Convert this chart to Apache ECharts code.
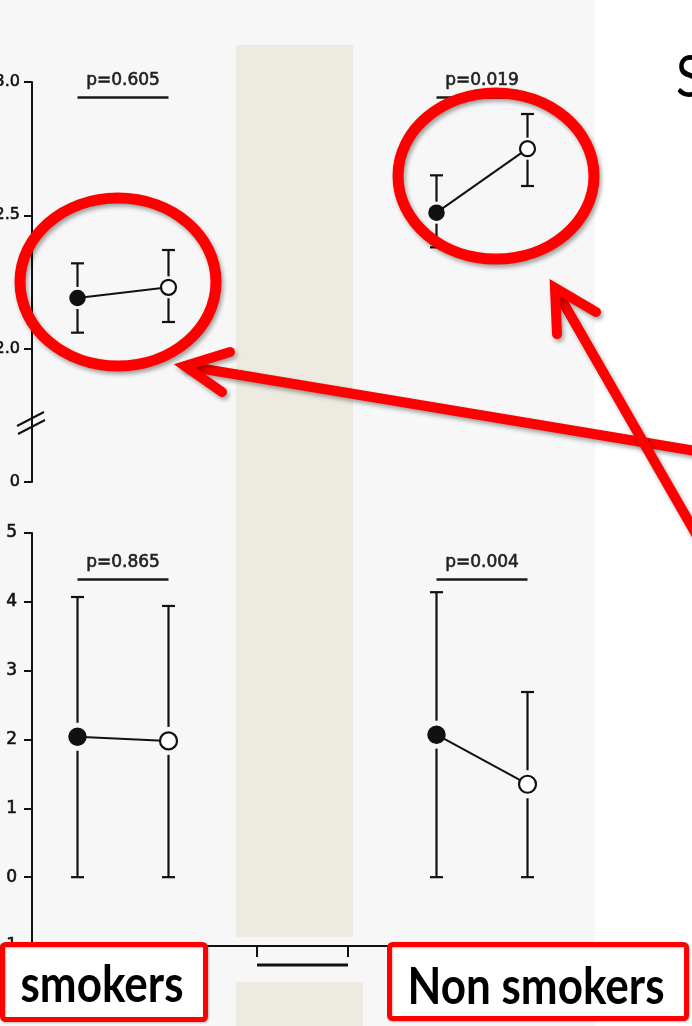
<!DOCTYPE html>
<html>
<head>
<meta charset="utf-8">
<script src="https://cdn.jsdelivr.net/npm/echarts@6/dist/echarts.min.js"></script>
<style>
  html, body { margin: 0; padding: 0; background: #ffffff; }
  #chart { width: 692px; height: 1026px; }
</style>
</head>
<body>
<div id="chart"></div>
<script>
// Two visits per group (baseline = filled marker, follow-up = open marker)
const visits = [1, 2];

// Upper panels: mean and error range
const upperSmokersMean = [2.19, 2.23];
const upperSmokersLow = [2.06, 2.10];
const upperSmokersHigh = [2.32, 2.37];
const upperNonSmokersMean = [2.51, 2.75];
const upperNonSmokersLow = [2.38, 2.61];
const upperNonSmokersHigh = [2.65, 2.88];

// Lower panels: mean and error range
const lowerSmokersMean = [2.04, 1.98];
const lowerSmokersLow = [0, 0];
const lowerSmokersHigh = [4.07, 3.94];
const lowerNonSmokersMean = [2.07, 1.35];
const lowerNonSmokersLow = [0, 0];
const lowerNonSmokersHigh = [4.14, 2.69];

// Significance labels: upper-left, upper-right, lower-left, lower-right
const pLabels = ['p=0.605', 'p=0.019', 'p=0.865', 'p=0.004'];

// Upper axis is broken between 0 and 2.0; the lowest tick stands for 0
const upperTicks = [1.5, 2.0, 2.5, 3.0];
const upperTickLabels = ['0', '2.0', '2.5', '3.0'];

const groupLabels = ['smokers', 'Non smokers'];

const INK = '#111111';
const RED = '#ff0000';
const PAPER = '#f7f7f7';
const STRIP = '#edebe1';
const SCAN_FONT = 'DejaVu Sans';

const panels = [
  { mean: upperSmokersMean, low: upperSmokersLow, high: upperSmokersHigh, upper: true, pLevel: 2.944, showAxis: true },
  { mean: upperNonSmokersMean, low: upperNonSmokersLow, high: upperNonSmokersHigh, upper: true, pLevel: 2.944, showAxis: false },
  { mean: lowerSmokersMean, low: lowerSmokersLow, high: lowerSmokersHigh, upper: false, pLevel: 4.33, showAxis: true },
  { mean: lowerNonSmokersMean, low: lowerNonSmokersLow, high: lowerNonSmokersHigh, upper: false, pLevel: 4.33, showAxis: false }
];

const grids = [
  { left: 32, top: 82, width: 182, height: 400 },
  { left: 391, top: 82, width: 182, height: 400 },
  { left: 32, top: 533, width: 364, height: 413 },
  { left: 391, top: 533, width: 182, height: 413 }
].map(g => Object.assign(g, { containLabel: false, outerBoundsMode: 'none' }));

const xAxes = grids.map((g, i) => ({
  type: 'value', gridIndex: i, min: 0.5, max: i === 2 ? 4.5 : 2.5,
  show: i === 2,
  axisLine: { show: i === 2, onZero: false, lineStyle: { color: INK, width: 2 } },
  axisTick: { show: false }, axisLabel: { show: false }, splitLine: { show: false }
}));

// slightly heavier strokes on the small print
const inkText = { textBorderColor: '#1a1a1a', textBorderWidth: 0.6 };

const yAxes = panels.map((p, i) => {
  const base = {
    type: 'value', gridIndex: i, show: p.showAxis,
    axisLine: { show: true, onZero: false, lineStyle: { color: INK, width: 2 } },
    axisTick: { show: true, inside: false, length: 8, lineStyle: { color: INK, width: 2 } },
    splitLine: { show: false }
  };
  if (p.upper) {
    return Object.assign(base, {
      min: 1.5, max: 3.0, interval: 0.5,
      axisLabel: Object.assign({
        margin: 12, color: INK, fontSize: 16, fontFamily: SCAN_FONT,
        formatter: v => {
          const k = upperTicks.findIndex(t => Math.abs(t - v) < 1e-6);
          return k >= 0 ? upperTickLabels[k] : '';
        }
      }, inkText)
    });
  }
  return Object.assign(base, {
    min: -1, max: 5, interval: 1,
    axisLabel: Object.assign({ margin: 15, color: INK, fontSize: 17, fontFamily: SCAN_FONT }, inkText)
  });
});

// Error bars with a small gap around each marker
function errorBars(gap, cap) {
  return function (params, api) {
    const x = api.value(0);
    const m = api.coord([x, api.value(1)]);
    const lo = api.coord([x, api.value(2)]);
    const hi = api.coord([x, api.value(3)]);
    const st = { stroke: INK, lineWidth: 2.2 };
    const kids = [];
    if (hi[1] < m[1] - gap) kids.push({ type: 'line', shape: { x1: m[0], y1: hi[1], x2: m[0], y2: m[1] - gap }, style: st });
    if (lo[1] > m[1] + gap) kids.push({ type: 'line', shape: { x1: m[0], y1: m[1] + gap, x2: m[0], y2: lo[1] }, style: st });
    kids.push({ type: 'line', shape: { x1: m[0] - cap / 2, y1: hi[1], x2: m[0] + cap / 2, y2: hi[1] }, style: st });
    kids.push({ type: 'line', shape: { x1: m[0] - cap / 2, y1: lo[1], x2: m[0] + cap / 2, y2: lo[1] }, style: st });
    return { type: 'group', children: kids };
  };
}

const series = [];
panels.forEach((p, i) => {
  series.push({
    type: 'custom', xAxisIndex: i, yAxisIndex: i, z: 2, silent: true,
    renderItem: errorBars(p.upper ? 11 : 14, 13),
    encode: { x: 0, y: 1 },
    data: visits.map((v, k) => [v, p.mean[k], p.low[k], p.high[k]])
  });
  const size = p.upper ? 15 : 17;
  series.push({
    type: 'line', xAxisIndex: i, yAxisIndex: i, z: 3, silent: true,
    symbol: 'circle', symbolSize: size, showSymbol: true,
    lineStyle: { color: INK, width: 2 },
    data: visits.map((v, k) => ({
      value: [v, p.mean[k]],
      itemStyle: k === 0
        ? { color: INK, borderColor: INK, borderWidth: 1.5 }
        : { color: '#ffffff', borderColor: INK, borderWidth: 2.2 }
    })),
    markLine: {
      silent: true, animation: false, symbol: ['none', 'none'],
      lineStyle: { color: '#1a1a1a', width: 2.5, type: 'solid' },
      label: Object.assign({
        show: true, position: 'insideMiddleTop', distance: 8,
        formatter: pLabels[i], color: '#222222', fontSize: 17, fontFamily: SCAN_FONT
      }, inkText),
      emphasis: { disabled: true },
      data: [[{ coord: [visits[0], p.pLevel] }, { coord: [visits[1], p.pLevel] }]]
    }
  });
});

const redShadow = { shadowBlur: 4, shadowColor: 'rgba(0,0,0,0.35)', shadowOffsetX: 2, shadowOffsetY: 3 };
const redLine = Object.assign({ stroke: RED, lineWidth: 10, lineCap: 'round', lineJoin: 'miter', fill: null }, redShadow);

function box(x, y, w, h, cx, cy, text, sx, sy) {
  return [
    { type: 'rect', z: 110, shape: { x: x, y: y, width: w, height: h, r: 3 },
      style: Object.assign({ fill: '#ffffff', stroke: RED, lineWidth: 5 }, { shadowBlur: 2, shadowColor: 'rgba(0,0,0,0.25)', shadowOffsetX: 1, shadowOffsetY: 1 }) },
    { type: 'text', z: 111, x: cx, y: cy, scaleX: sx, scaleY: sy,
      style: { text: text, x: 0, y: 0, align: 'center', verticalAlign: 'middle', fill: '#000000',
               font: 'bold 44px Lato' } }
  ];
}

const graphics = [
  // paper background of the figure
  { type: 'rect', z: -100, shape: { x: 0, y: 0, width: 595, height: 1026 }, style: { fill: PAPER } },
  // covering strips
  { type: 'rect', z: 50, shape: { x: 236, y: 45, width: 117, height: 892 }, style: { fill: STRIP } },
  { type: 'rect', z: 50, shape: { x: 236, y: 982, width: 127, height: 44 }, style: { fill: STRIP } },
  // axis break on the upper-left scale
  { type: 'line', z: 5, shape: { x1: 17, y1: 426, x2: 44, y2: 412 }, style: { stroke: INK, lineWidth: 2 } },
  { type: 'line', z: 5, shape: { x1: 18, y1: 434, x2: 45, y2: 420 }, style: { stroke: INK, lineWidth: 2 } },
  // bracket below the baseline
  { type: 'polyline', z: 5, shape: { points: [[257, 945], [257, 957]] }, style: { stroke: INK, lineWidth: 2, fill: null } },
  { type: 'polyline', z: 5, shape: { points: [[348, 945], [348, 957]] }, style: { stroke: INK, lineWidth: 2, fill: null } },
  { type: 'line', z: 5, shape: { x1: 257, y1: 965, x2: 348, y2: 965 }, style: { stroke: INK, lineWidth: 3 } },
  // highlight rings
  { type: 'ellipse', z: 100, shape: { cx: 118, cy: 282, rx: 98, ry: 84 }, style: Object.assign({ fill: null, stroke: RED, lineWidth: 11 }, redShadow) },
  { type: 'ellipse', z: 100, shape: { cx: 496, cy: 176, rx: 98, ry: 83 }, style: Object.assign({ fill: null, stroke: RED, lineWidth: 11 }, redShadow) },
  // arrows
  { type: 'line', z: 100, shape: { x1: 186, y1: 366, x2: 720, y2: 455 }, style: redLine },
  { type: 'polyline', z: 101, shape: { points: [[230, 352], [185, 366], [222, 392]] }, style: redLine },
  { type: 'line', z: 100, shape: { x1: 556, y1: 290, x2: 700, y2: 541 }, style: redLine },
  { type: 'polyline', z: 101, shape: { points: [[557, 334], [555, 288], [596, 312]] }, style: redLine },
  // title fragment at the right edge
  { type: 'text', z: 100, x: 676, y: 78, scaleY: 1.15,
    style: { text: 'S', x: 0, y: 0, align: 'left', verticalAlign: 'middle', fill: '#000000', font: '50px Lato' } }
].concat(
  box(2.5, 944.5, 203, 75, 102, 986, groupLabels[0], 1, 1.15),
  box(389.5, 944.5, 297, 74, 536, 988, groupLabels[1], 1, 1.15)
);

const chart = echarts.init(document.getElementById('chart'), null, { renderer: 'canvas' });
chart.setOption({
  backgroundColor: '#ffffff',
  animation: false,
  grid: grids,
  xAxis: xAxes,
  yAxis: yAxes,
  series: series,
  graphic: { elements: graphics }
});
</script>
</body>
</html>
